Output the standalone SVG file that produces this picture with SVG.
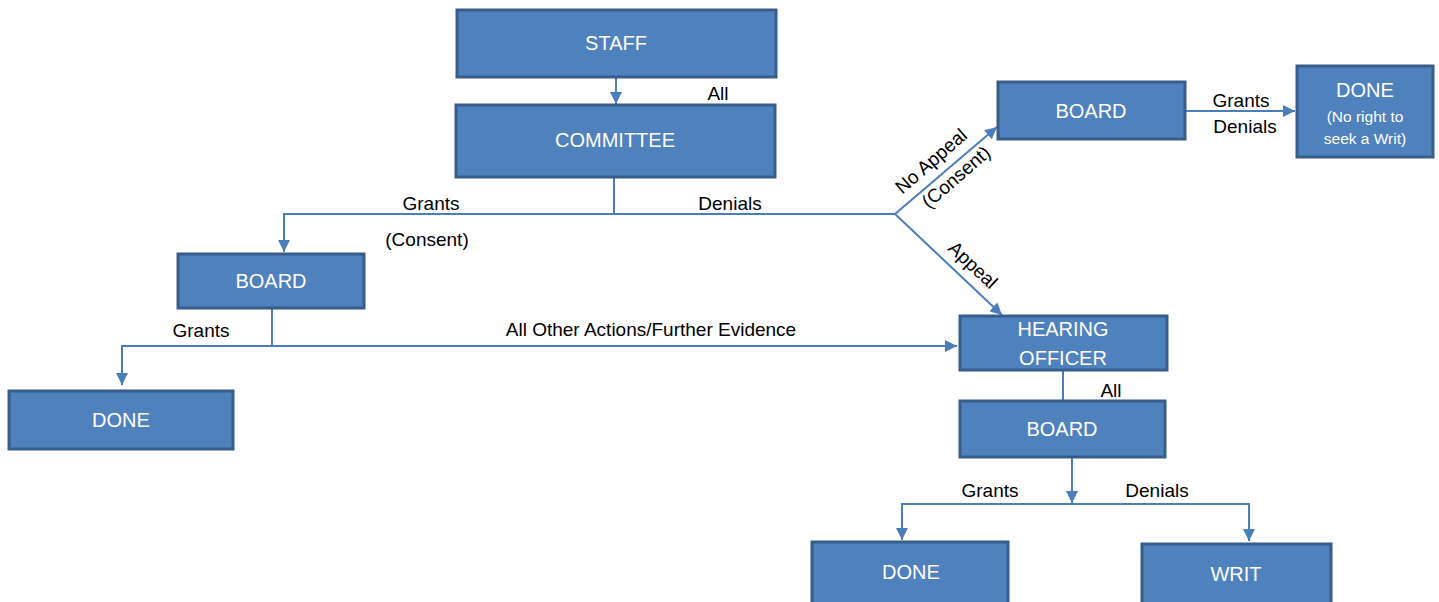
<svg xmlns="http://www.w3.org/2000/svg" width="1439" height="602" viewBox="0 0 1439 602">
<style>
.box{fill:#4F81BD;stroke:#385D8A;stroke-width:3}
.nt{font-family:"Liberation Sans",Arial,sans-serif;font-size:20px;fill:#fff;text-anchor:middle;dominant-baseline:central}
.st{font-family:"Liberation Sans",Arial,sans-serif;font-size:15.5px;fill:#fff;text-anchor:middle;dominant-baseline:central}
.lb{font-family:"Liberation Sans",Arial,sans-serif;font-size:19px;fill:#000;text-anchor:middle;dominant-baseline:central}
.cn{fill:none;stroke:#4A7EBB;stroke-width:2}
</style>
<defs>
<marker id="ah" viewBox="0 0 10 10" refX="10" refY="5" markerWidth="6" markerHeight="6" orient="auto" markerUnits="strokeWidth">
<path d="M0,0 L10,5 L0,10 z" fill="#4A7EBB"/>
</marker>
</defs>
<rect width="1439" height="602" fill="#fff"/>
<g id="connectors">
<line class="cn" x1="616" y1="78" x2="616" y2="104" marker-end="url(#ah)"/>
<polyline class="cn" points="614,178 614,214 284,214 284,252" marker-end="url(#ah)"/>
<polyline class="cn" points="614,214 895,214 997,127" marker-end="url(#ah)"/>
<line class="cn" x1="895" y1="214" x2="1002" y2="315" marker-end="url(#ah)"/>
<line class="cn" x1="1186" y1="111" x2="1295" y2="111" marker-end="url(#ah)"/>
<polyline class="cn" points="272,309 272,346 122,346 122,385" marker-end="url(#ah)"/>
<line class="cn" x1="272" y1="346" x2="957" y2="346" marker-end="url(#ah)"/>
<line class="cn" x1="1063" y1="371" x2="1063" y2="400"/>
<line class="cn" x1="1072" y1="458" x2="1072" y2="503" marker-end="url(#ah)"/>
<polyline class="cn" points="1072,504 902,504 902,540" marker-end="url(#ah)"/>
<polyline class="cn" points="1072,504 1249,504 1249,541" marker-end="url(#ah)"/>
</g>
<g id="labels">
<text class="lb" x="718" y="93">All</text>
<text class="lb" x="431" y="203">Grants</text>
<text class="lb" x="730" y="203">Denials</text>
<text class="lb" x="427" y="239">(Consent)</text>
<text class="lb" transform="translate(931,161) rotate(-41)">No Appeal</text>
<text class="lb" transform="translate(956,177) rotate(-41)">(Consent)</text>
<text class="lb" transform="translate(973,265) rotate(43)">Appeal</text>
<text class="lb" x="1241" y="100">Grants</text>
<text class="lb" x="1245" y="126">Denials</text>
<text class="lb" x="201" y="330">Grants</text>
<text class="lb" x="651" y="329">All Other Actions/Further Evidence</text>
<text class="lb" x="1111" y="390">All</text>
<text class="lb" x="990" y="490">Grants</text>
<text class="lb" x="1157" y="490">Denials</text>
</g>
<g id="staff"><rect class="box" x="457" y="10" width="319" height="67"/><text class="nt" x="616" y="43">STAFF</text></g>
<g id="committee"><rect class="box" x="456" y="105" width="319" height="72"/><text class="nt" x="615" y="140">COMMITTEE</text></g>
<g id="board-top"><rect class="box" x="998" y="82" width="187" height="57"/><text class="nt" x="1091" y="111">BOARD</text></g>
<g id="done-top"><rect class="box" x="1297" y="66" width="136" height="91"/><text class="nt" x="1365" y="90">DONE</text><text class="st" x="1365" y="116">(No right to</text><text class="st" x="1365" y="138">seek a Writ)</text></g>
<g id="board-left"><rect class="box" x="178" y="254" width="186" height="54"/><text class="nt" x="271" y="281">BOARD</text></g>
<g id="done-left"><rect class="box" x="9" y="391" width="224" height="58"/><text class="nt" x="121" y="420">DONE</text></g>
<g id="hearing-officer"><rect class="box" x="960" y="316" width="207" height="54"/><text class="nt" x="1063" y="329">HEARING</text><text class="nt" x="1063" y="358">OFFICER</text></g>
<g id="board-bottom"><rect class="box" x="960" y="401" width="205" height="56"/><text class="nt" x="1062" y="429">BOARD</text></g>
<g id="done-bottom"><rect class="box" x="812" y="542" width="196" height="64"/><text class="nt" x="911" y="572">DONE</text></g>
<g id="writ"><rect class="box" x="1142" y="544" width="189" height="62"/><text class="nt" x="1236" y="574">WRIT</text></g>
</svg>
